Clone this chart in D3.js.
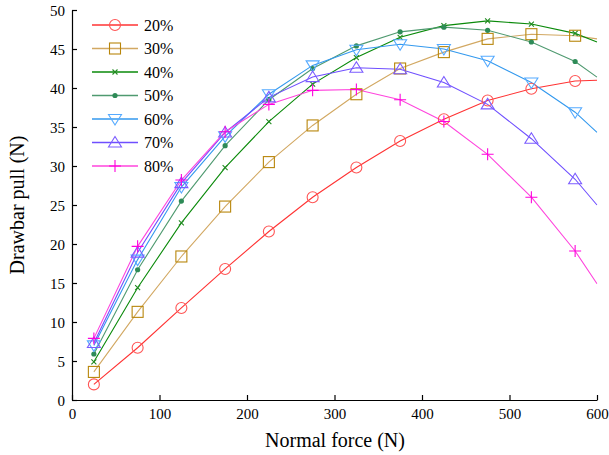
<!DOCTYPE html>
<html><head><meta charset="utf-8">
<script src="https://cdn.jsdelivr.net/npm/d3@7/dist/d3.min.js"></script>
<style>body{margin:0;background:#fff}svg{display:block}</style>
</head><body>
<script>
const forces = [25,75,125,175,225,275,325,375,425,475,525,575];
const endForce = 600;
const seriesNames = ["20%","30%","40%","50%","60%","70%","80%"];
const s20 = [2.0,6.7,11.8,16.8,21.6,26.0,29.8,33.2,36.0,38.4,39.9,40.9];
const s30 = [3.6,11.3,18.4,24.8,30.5,35.2,39.2,42.5,44.6,46.3,46.9,46.7];
const s40 = [4.9,14.4,22.7,29.8,35.7,40.5,43.9,46.5,48.0,48.6,48.2,47.0];
const s50 = [5.9,16.7,25.5,32.6,38.5,42.5,45.4,47.2,47.8,47.4,45.9,43.4];
const s60 = [7.0,18.0,27.3,33.8,39.2,42.9,44.9,45.6,45.0,43.5,40.7,36.9];
const s70 = [7.3,18.9,27.8,34.3,38.8,41.4,42.6,42.4,40.7,37.9,33.5,28.3];
const s80 = [7.9,19.7,28.2,34.4,37.9,39.7,39.8,38.5,35.7,31.5,26.0,19.1];
const endValues = [41.0,46.3,45.9,41.4,34.3,25.0,14.9];
const xTicks = [0,100,200,300,400,500,600];
const yTicks = [0,5,10,15,20,25,30,35,40,45,50];

const allSeries = [s20,s30,s40,s50,s60,s70,s80];
const styles = [
  {line:"#ff3333", mark:"#ff5555", shape:"circle"},
  {line:"#d2a862", mark:"#b8860b", shape:"square"},
  {line:"#0a8a0a", mark:"#228b22", shape:"x"},
  {line:"#4f9a70", mark:"#2e8b57", shape:"dot"},
  {line:"#3399ee", mark:"#55aaff", shape:"tridown"},
  {line:"#6f4fff", mark:"#7b5cff", shape:"triup"},
  {line:"#ff44dd", mark:"#ff00dd", shape:"plus"}
];

const W=609,H=455;
const m={l:72,r:12,t:10,b:55};
const svg=d3.select("body").append("svg").attr("width",W).attr("height",H);
const x=d3.scaleLinear().domain([0,600]).range([72,597]);
const y=d3.scaleLinear().domain([0,50]).range([400,10]);
const font="'Liberation Serif','Times New Roman',serif";

svg.append("defs").append("clipPath").attr("id","clip")
  .append("rect").attr("x",72).attr("y",0).attr("width",525.5).attr("height",401);

const xAxis=svg.append("g").attr("transform","translate(0,400)")
  .call(d3.axisBottom(x).tickValues(xTicks).tickSizeInner(-5).tickSizeOuter(0).tickPadding(8));
const yAxis=svg.append("g").attr("transform","translate(72,0)")
  .call(d3.axisLeft(y).tickValues(yTicks).tickSizeInner(-5).tickSizeOuter(0).tickPadding(7));
[xAxis,yAxis].forEach(g=>{
  g.selectAll("path,line").attr("stroke","#000").attr("stroke-width",1.2);
  g.selectAll("text").attr("font-family",font).attr("font-size",15).attr("fill","#000");
});
yAxis.selectAll("text").attr("dy","0.35em");

svg.append("text").attr("x",335).attr("y",447).attr("text-anchor","middle")
  .attr("font-family",font).attr("font-size",20).text("Normal force (N)");
svg.append("text").attr("transform","translate(24,205) rotate(-90)").attr("text-anchor","middle")
  .attr("font-family",font).attr("font-size",20).text("Drawbar pull (N)");

function drawMarker(g,shape,cx,cy,col){
  const sw=1.1;
  if(shape==="circle") g.append("circle").attr("cx",cx).attr("cy",cy).attr("r",5.5).attr("fill","none").attr("stroke",col).attr("stroke-width",sw);
  else if(shape==="square") g.append("rect").attr("x",cx-5.5).attr("y",cy-5.5).attr("width",11).attr("height",11).attr("fill","none").attr("stroke",col).attr("stroke-width",sw);
  else if(shape==="x") g.append("path").attr("d",`M${cx-2.5},${cy-2.5}L${cx+2.5},${cy+2.5}M${cx-2.5},${cy+2.5}L${cx+2.5},${cy-2.5}`).attr("stroke",col).attr("stroke-width",sw);
  else if(shape==="dot") g.append("circle").attr("cx",cx).attr("cy",cy).attr("r",2.6).attr("fill",col);
  else if(shape==="tridown") g.append("path").attr("d",`M${cx-6.5},${cy-4.5}L${cx+6.5},${cy-4.5}L${cx},${cy+6}Z`).attr("fill","none").attr("stroke",col).attr("stroke-width",sw);
  else if(shape==="triup") g.append("path").attr("d",`M${cx-6.5},${cy+4.5}L${cx+6.5},${cy+4.5}L${cx},${cy-6}Z`).attr("fill","none").attr("stroke",col).attr("stroke-width",sw);
  else if(shape==="plus") g.append("path").attr("d",`M${cx-6},${cy}L${cx+6},${cy}M${cx},${cy-6}L${cx},${cy+6}`).attr("stroke",col).attr("stroke-width",sw);
}

const plot=svg.append("g").attr("clip-path","url(#clip)");
const lineGen=d3.line().x(d=>x(d[0])).y(d=>y(d[1]));
allSeries.forEach((vals,i)=>{
  const pts=forces.map((f,j)=>[f,vals[j]]);
  pts.push([endForce,endValues[i]]);
  plot.append("path").datum(pts).attr("d",lineGen).attr("fill","none")
    .attr("stroke",styles[i].line).attr("stroke-width",1.1);
});
allSeries.forEach((vals,i)=>{
  const g=plot.append("g");
  forces.forEach((f,j)=>drawMarker(g,styles[i].shape,x(f),y(vals[j]),styles[i].mark));
});

// legend
const legY=[25,48.5,72,95.5,119,142.5,166];
seriesNames.forEach((n,i)=>{
  const g=svg.append("g");
  g.append("line").attr("x1",92).attr("x2",138).attr("y1",legY[i]).attr("y2",legY[i])
    .attr("stroke",styles[i].line).attr("stroke-width",1.3);
  drawMarker(g,styles[i].shape,115,legY[i],styles[i].mark);
  g.append("text").attr("x",144).attr("y",legY[i]).attr("dy","0.35em")
    .attr("font-family",font).attr("font-size",16).text(n);
});
</script>
</body></html>
